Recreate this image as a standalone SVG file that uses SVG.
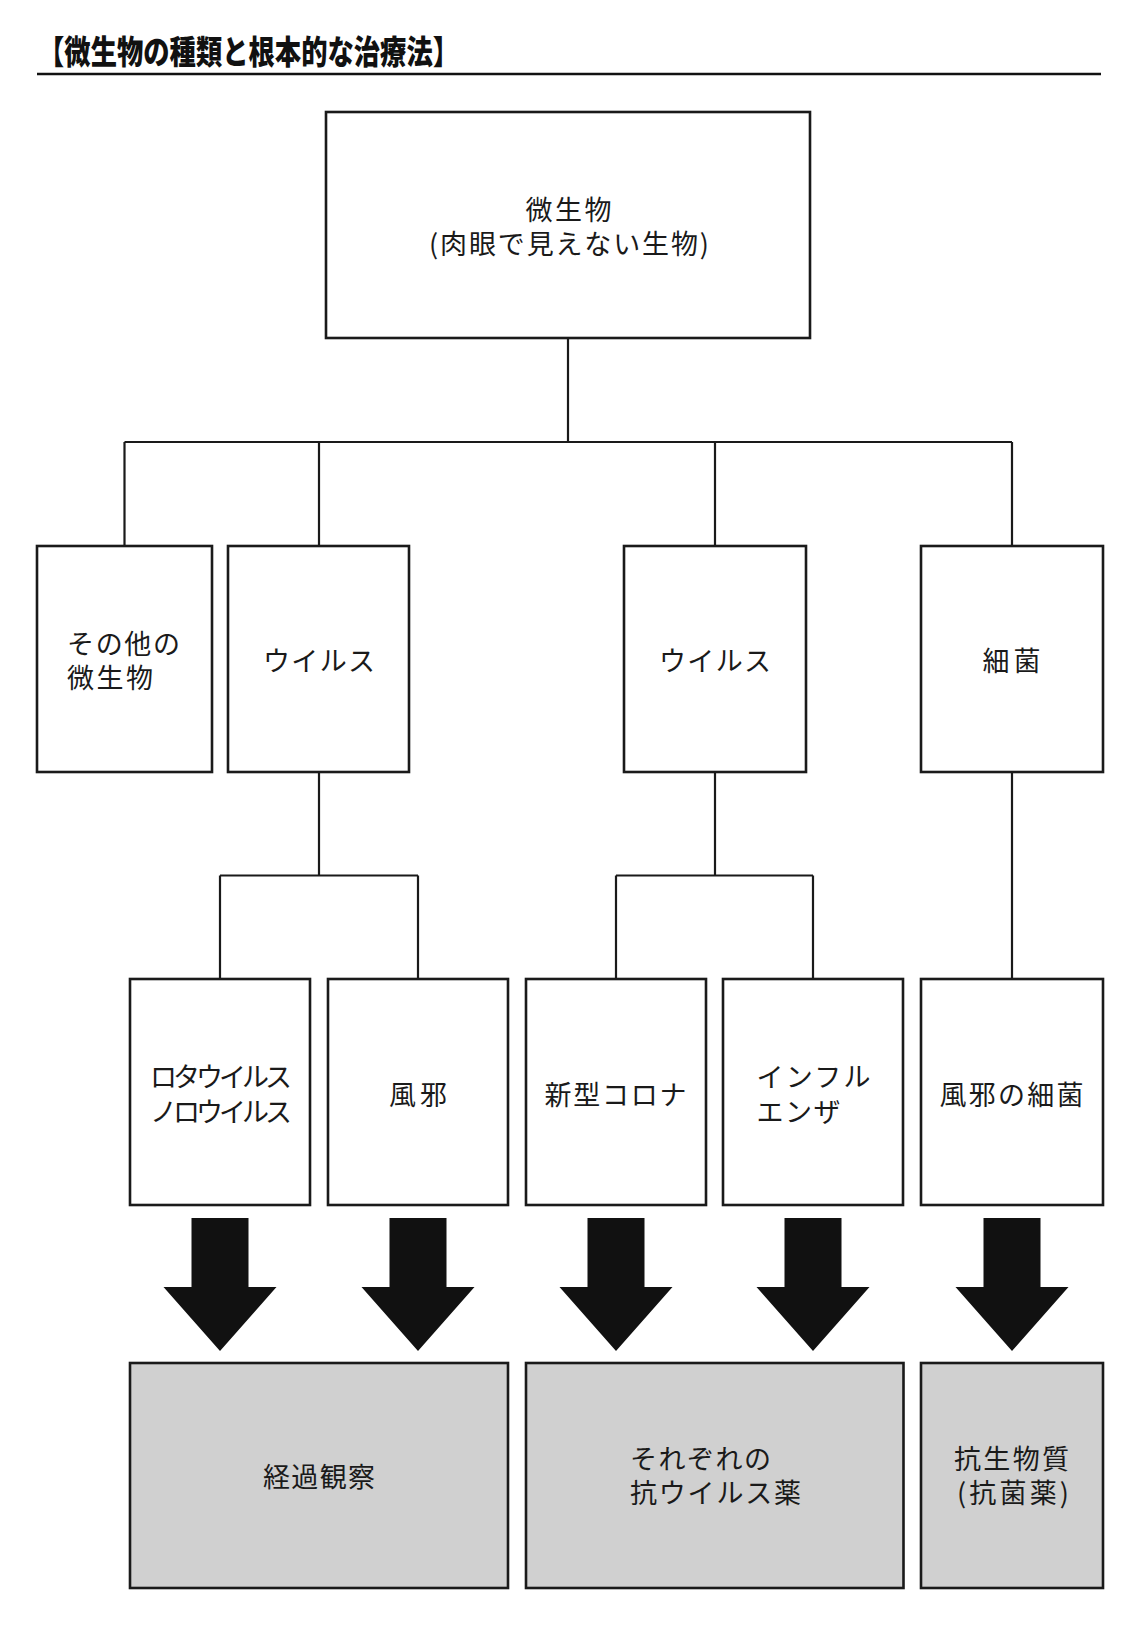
<svg xmlns="http://www.w3.org/2000/svg" width="1140" height="1627" viewBox="0 0 1140 1627">
<style>
  .box { fill: #ffffff; stroke: #1a1a1a; stroke-width: 2.6; }
  .res { fill: #d0d0d0; stroke: #1a1a1a; stroke-width: 2.6; }
  .t { font-family: "Noto Sans CJK JP", "Noto Sans", sans-serif; font-size: 27px; fill: #1a1a1a; dominant-baseline: central; }
  .c { text-anchor: middle; }
  .l { text-anchor: start; }
  .title { font-family: "Noto Sans CJK JP", "Noto Sans", sans-serif; font-size: 33px; font-weight: 900; fill: #111; dominant-baseline: central; }
  .conn path { fill: none; stroke: #1a1a1a; stroke-width: 2.2; }
  .arrow { fill: #111; }
</style>
<defs>
  <path id="bigArrow" d="M-28.5 0 H28.5 V69 H56.5 L0 133 L-56.5 69 H-28.5 Z"/>
</defs>
<rect width="1140" height="1627" fill="#ffffff"/>

<g id="header">
  <text class="title" x="38" y="50" textLength="421" lengthAdjust="spacingAndGlyphs">【微生物の種類と根本的な治療法】</text>
  <line x1="37" y1="74" x2="1101" y2="74" stroke="#111" stroke-width="2.5"/>
</g>

<g class="conn" id="connectors">
  <path d="M568 338 V442"/>
  <path d="M124.5 442 H1012"/>
  <path d="M124.5 442 V546 M319 442 V546 M715 442 V546 M1012 442 V546"/>
  <path d="M319 772 V875.5 M220 875.5 H418 M220 875.5 V979 M418 875.5 V979"/>
  <path d="M715 772 V875.5 M616 875.5 H813 M616 875.5 V979 M813 875.5 V979"/>
  <path d="M1012 772 V979"/>
</g>

<g id="arrows">
  <use href="#bigArrow" class="arrow" transform="translate(220 1218)"/>
  <use href="#bigArrow" class="arrow" transform="translate(418 1218)"/>
  <use href="#bigArrow" class="arrow" transform="translate(616 1218)"/>
  <use href="#bigArrow" class="arrow" transform="translate(813 1218)"/>
  <use href="#bigArrow" class="arrow" transform="translate(1012 1218)"/>
</g>

<g id="microbes">
  <rect class="box" x="326" y="112" width="484" height="226"/>
  <text class="t c" x="568.5" y="208.5" textLength="86" lengthAdjust="spacing">微生物</text>
  <text class="t c" x="569" y="242.5" textLength="280" lengthAdjust="spacing">(肉眼で見えない生物)</text>
</g>

<g id="other-microbes">
  <rect class="box" x="37" y="546" width="175" height="226"/>
  <text class="t l" x="67" y="642" textLength="113" lengthAdjust="spacing">その他の</text>
  <text class="t l" x="67" y="676" textLength="86" lengthAdjust="spacing">微生物</text>
</g>

<g id="virus-1">
  <rect class="box" x="228" y="546" width="181" height="226"/>
  <text class="t c" x="319" y="659.5" textLength="112" lengthAdjust="spacing">ウイルス</text>
</g>

<g id="virus-2">
  <rect class="box" x="624" y="546" width="182" height="226"/>
  <text class="t c" x="715" y="659.5" textLength="112" lengthAdjust="spacing">ウイルス</text>
</g>

<g id="bacteria">
  <rect class="box" x="921" y="546" width="182" height="226"/>
  <text class="t c" x="1011.5" y="659.5" textLength="58" lengthAdjust="spacing">細菌</text>
</g>

<g id="rota-noro">
  <rect class="box" x="130" y="979" width="180" height="226"/>
  <text class="t l" x="150" y="1075.5" textLength="142" lengthAdjust="spacing">ロタウイルス</text>
  <text class="t l" x="150" y="1110" textLength="142" lengthAdjust="spacing">ノロウイルス</text>
</g>

<g id="cold-virus">
  <rect class="box" x="328" y="979" width="180" height="226"/>
  <text class="t c" x="418" y="1093" textLength="58" lengthAdjust="spacing">風邪</text>
</g>

<g id="covid">
  <rect class="box" x="526" y="979" width="180" height="226"/>
  <text class="t c" x="615.5" y="1093" textLength="142" lengthAdjust="spacing">新型コロナ</text>
</g>

<g id="influenza">
  <rect class="box" x="723" y="979" width="180" height="226"/>
  <text class="t l" x="756.5" y="1075.5" textLength="114" lengthAdjust="spacing">インフル</text>
  <text class="t l" x="756.5" y="1110" textLength="84" lengthAdjust="spacing">エンザ</text>
</g>

<g id="cold-bacteria">
  <rect class="box" x="921" y="979" width="182" height="226"/>
  <text class="t c" x="1011.5" y="1093" textLength="144" lengthAdjust="spacing">風邪の細菌</text>
</g>

<g id="observation">
  <rect class="res" x="130" y="1363" width="378" height="225"/>
  <text class="t c" x="319" y="1475" textLength="112" lengthAdjust="spacing">経過観察</text>
</g>

<g id="antiviral">
  <rect class="res" x="526" y="1363" width="377.5" height="225"/>
  <text class="t l" x="630" y="1457.5" textLength="141" lengthAdjust="spacing">それぞれの</text>
  <text class="t l" x="630" y="1491.5" textLength="171" lengthAdjust="spacing">抗ウイルス薬</text>
</g>

<g id="antibiotics">
  <rect class="res" x="921" y="1363" width="182" height="225"/>
  <text class="t c" x="1011.5" y="1457.5" textLength="115" lengthAdjust="spacing">抗生物質</text>
  <text class="t c" x="1013" y="1491.5" textLength="112" lengthAdjust="spacing">(抗菌薬)</text>
</g>
</svg>
